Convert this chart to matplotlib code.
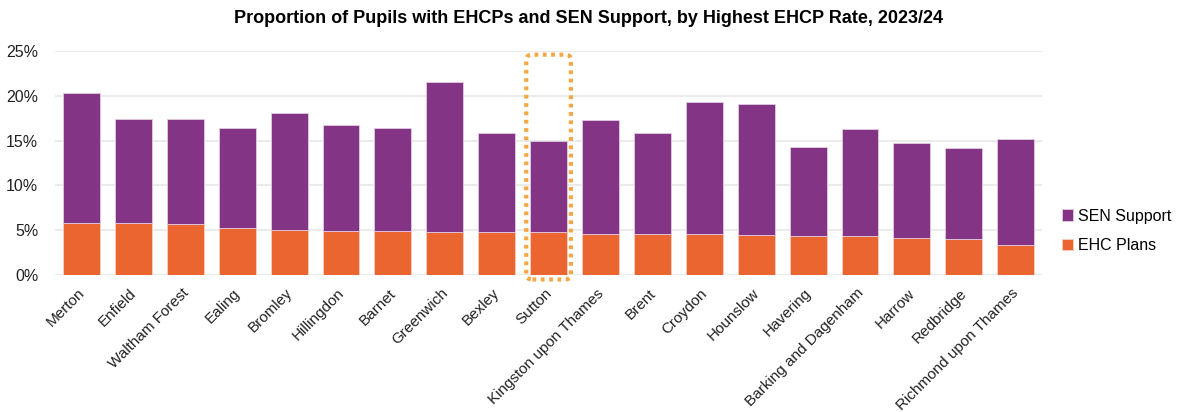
import matplotlib
matplotlib.use("Agg")
import matplotlib.pyplot as plt
import matplotlib.transforms as mtransforms
from matplotlib.patches import FancyBboxPatch
from matplotlib.ticker import FuncFormatter

plt.rcParams['font.family'] = ['Liberation Sans', 'DejaVu Sans']

boroughs = ["Merton", "Enfield", "Waltham Forest", "Ealing", "Bromley", "Hillingdon",
            "Barnet", "Greenwich", "Bexley", "Sutton", "Kingston upon Thames", "Brent",
            "Croydon", "Hounslow", "Havering", "Barking and Dagenham", "Harrow",
            "Redbridge", "Richmond upon Thames"]
ehc_plans = [5.8, 5.8, 5.7, 5.2, 5.0, 4.9, 4.9, 4.8, 4.8, 4.8,
             4.6, 4.6, 4.6, 4.5, 4.4, 4.3, 4.1, 4.0, 3.4]
sen_support = [14.5, 11.6, 11.7, 11.2, 13.1, 11.8, 11.5, 16.7, 11.0, 10.2,
               12.7, 11.2, 14.7, 14.6, 9.9, 12.0, 10.6, 10.2, 11.8]
highlight = "Sutton"

purple = "#833484"
orange = "#EA6530"

fig = plt.figure(figsize=(11.78, 4.12), dpi=100)
ax = fig.add_axes([0.0467, 0.3325, 0.838, 0.5435])

x = range(len(boroughs))
ax.bar(x, ehc_plans, width=0.71, color=orange, edgecolor="#F7D0C0", linewidth=0.6,
       label="EHC Plans", zorder=3)
ax.bar(x, sen_support, bottom=ehc_plans, width=0.71, color=purple, edgecolor="#E2CCE2",
       linewidth=0.6, label="SEN Support", zorder=3)

ax.set_xlim(-0.51, len(boroughs) - 0.49)
ax.set_ylim(0, 25)
ax.set_yticks([0, 5, 10, 15, 20, 25])
ax.yaxis.set_major_formatter(FuncFormatter(lambda v, p: f"{v:.0f}%"))
ax.grid(axis="y", color="#EBEBEB", linewidth=1.5, zorder=0)
ax.set_axisbelow(True)
for s in ax.spines.values():
    s.set_visible(False)
ax.tick_params(axis="both", length=0, labelsize=11.5, colors="#222222")
ax.tick_params(axis="y", pad=12)
ax.tick_params(axis="x", pad=8)
ax.set_xticks(list(x))
ax.set_xticklabels(boroughs, rotation=45, ha="right", rotation_mode="anchor", fontsize=11)
shift = mtransforms.ScaledTranslation(-0.04, 0, fig.dpi_scale_trans)
for lab in ax.get_xticklabels():
    lab.set_transform(lab.get_transform() + shift)

# dotted box around the highlighted borough
i = boroughs.index(highlight)
box = FancyBboxPatch((i - 0.43, -0.5), 0.86, 25.1,
                     boxstyle="round,pad=0,rounding_size=0.12",
                     mutation_aspect=4.5,
                     fill=False, edgecolor="#F5A742", linewidth=3,
                     linestyle=(0, (0.9, 1.1)), clip_on=False, zorder=5)
ax.add_patch(box)

handles, labels = ax.get_legend_handles_labels()
fig.legend(handles[::-1], labels[::-1], loc="center left", bbox_to_anchor=(0.889, 0.44),
           frameon=False, fontsize=11.5, handlelength=0.7, handleheight=0.7,
           handletextpad=0.3, labelspacing=0.9)

fig.suptitle("Proportion of Pupils with EHCPs and SEN Support, by Highest EHCP Rate, 2023/24",
             x=0.5, y=0.975, fontsize=13, fontweight="bold")

fig.savefig("out.png", dpi=100)
